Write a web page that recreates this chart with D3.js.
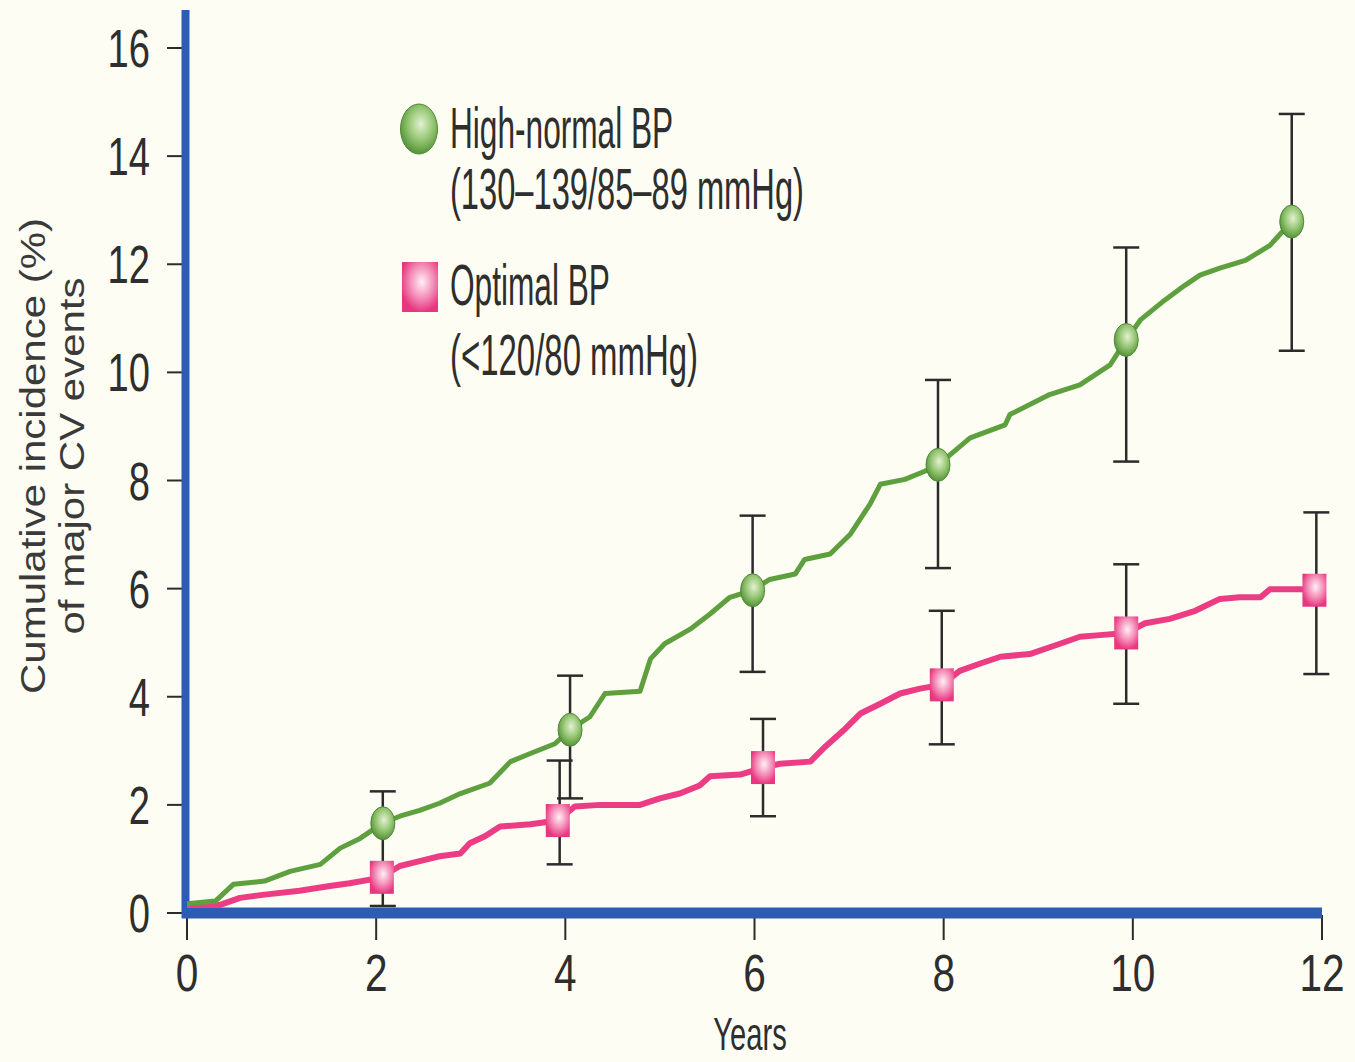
<!DOCTYPE html>
<html>
<head>
<meta charset="utf-8">
<script src="https://cdn.jsdelivr.net/npm/d3@7"></script>
<style>
  body { margin: 0; background: #fdfdf3; }
  svg { display: block; }
  text { font-family: "Liberation Sans", Arial, sans-serif; fill: #2e2e2e; }
</style>
</head>
<body>
<svg id="chart" width="1355" height="1062"></svg>
<script>
// DATA
const years = [0, 2, 4, 6, 8, 10, 12];
const yTicks = [0, 2, 4, 6, 8, 10, 12, 14, 16];

// high-normal BP curve (years, %)
const highT = [0, 0.3, 0.49, 0.82, 1.09, 1.41, 1.62, 1.83, 1.99, 2.07, 2.25, 2.46, 2.67, 2.89, 3.2, 3.42, 3.63, 3.89, 4.05, 4.26, 4.42, 4.79, 4.9, 5.05, 5.32, 5.53, 5.74, 5.98, 6.16, 6.43, 6.53, 6.8, 7.01, 7.22, 7.33, 7.59, 7.8, 7.94, 8.07, 8.28, 8.65, 8.7, 9.12, 9.44, 9.76, 9.93, 10.08, 10.34, 10.55, 10.71, 10.92, 11.19, 11.45, 11.68];
const highV = [0.17, 0.22, 0.53, 0.59, 0.77, 0.9, 1.2, 1.38, 1.57, 1.66, 1.79, 1.9, 2.03, 2.21, 2.4, 2.8, 2.95, 3.13, 3.39, 3.63, 4.06, 4.1, 4.7, 4.98, 5.25, 5.53, 5.84, 5.97, 6.17, 6.27, 6.54, 6.64, 7.0, 7.56, 7.93, 8.02, 8.17, 8.29, 8.48, 8.79, 9.03, 9.22, 9.59, 9.77, 10.14, 10.6, 10.97, 11.34, 11.61, 11.8, 11.93, 12.07, 12.35, 12.79];

// optimal BP curve
const optT = [0, 0.35, 0.56, 0.82, 1.19, 1.51, 1.72, 2.04, 2.25, 2.46, 2.67, 2.89, 2.99, 3.15, 3.31, 3.63, 3.92, 4.1, 4.37, 4.79, 5.0, 5.21, 5.42, 5.53, 5.85, 6.09, 6.27, 6.59, 6.75, 6.96, 7.12, 7.33, 7.54, 7.75, 7.98, 8.17, 8.38, 8.6, 8.91, 9.23, 9.44, 9.65, 9.93, 10.13, 10.39, 10.66, 10.92, 11.13, 11.35, 11.45, 11.77, 11.92];
const optV = [0.15, 0.15, 0.28, 0.34, 0.41, 0.5, 0.55, 0.65, 0.87, 0.96, 1.05, 1.1, 1.29, 1.42, 1.6, 1.64, 1.71, 1.97, 2.0, 2.0, 2.12, 2.21, 2.36, 2.53, 2.56, 2.69, 2.76, 2.8, 3.08, 3.41, 3.69, 3.87, 4.06, 4.15, 4.22, 4.48, 4.61, 4.74, 4.79, 4.98, 5.11, 5.14, 5.18, 5.36, 5.44, 5.59, 5.81, 5.84, 5.84, 5.99, 5.99, 5.97];

// markers with error bars
const highMarkT = [2.07, 4.05, 5.98, 7.94, 9.93, 11.68];
const highMarkV = [1.66, 3.39, 5.97, 8.29, 10.6, 12.79];
const highLo = [0.13, 2.12, 4.46, 6.38, 8.35, 10.4];
const highHi = [2.25, 4.39, 7.35, 9.86, 12.31, 14.78];

const optMarkT = [2.06, 3.92, 6.09, 7.98, 9.93, 11.92];
const optMarkV = [0.66, 1.71, 2.69, 4.22, 5.18, 5.97];
const optBarT = [2.06, 3.94, 6.09, 7.98, 9.93, 11.94];
const optLo = [null, 0.9, 1.79, 3.12, 3.87, 4.42];
const optHi = [null, 2.82, 3.59, 5.59, 6.45, 7.41];

const legendLines = ["High-normal BP", "(130\u2013139/85\u201389 mmHg)", "Optimal BP", "(<120/80 mmHg)"];

// STYLE
const blue = "#2c5cb3", green = "#5e9f3e", pink = "#ec3c84", ink = "#2b2b2b";

const svg = d3.select("#chart");
svg.append("rect").attr("width", 1355).attr("height", 1062).attr("fill", "#fdfdf3");

const x = d3.scaleLinear().domain([0, 12]).range([187, 1322]);
const y = d3.scaleLinear().domain([0, 16]).range([913, 48]);

const defs = svg.append("defs");
function grad(id, c0, c1, c2) {
  const g = defs.append("radialGradient").attr("id", id)
    .attr("cx", "55%").attr("cy", "40%").attr("r", "60%");
  g.append("stop").attr("offset", "0%").attr("stop-color", c0);
  g.append("stop").attr("offset", "55%").attr("stop-color", c1);
  g.append("stop").attr("offset", "100%").attr("stop-color", c2);
}
grad("gGreen", "#e3f1d2", "#95c673", "#55933a");
grad("gPink", "#fff0f6", "#f48db7", "#e8367f");

// squeezed text helper
function label(parent, str, px, py, size, sx, anchor) {
  parent.append("text")
    .attr("transform", `translate(${px},${py}) scale(${sx},1)`)
    .attr("text-anchor", anchor || "start")
    .style("font-size", size + "px")
    .text(str);
}

// AXES
const ax = svg.append("g");
ax.selectAll(".ytick").data(yTicks).join("line")
  .attr("x1", 167).attr("x2", 184)
  .attr("y1", d => y(d)).attr("y2", d => y(d))
  .attr("stroke", ink).attr("stroke-width", 2);
ax.selectAll(".xtick").data(years).join("line")
  .attr("x1", d => x(d)).attr("x2", d => x(d))
  .attr("y1", 915).attr("y2", 940)
  .attr("stroke", ink).attr("stroke-width", 2);

ax.append("line").attr("x1", x(0) - 1.5).attr("x2", x(0) - 1.5)
  .attr("y1", 10).attr("y2", 918)
  .attr("stroke", blue).attr("stroke-width", 8);
ax.append("line").attr("x1", 182).attr("x2", x(12))
  .attr("y1", y(0)).attr("y2", y(0))
  .attr("stroke", blue).attr("stroke-width", 11);

yTicks.forEach(d => label(ax, d, 150, y(d) + 19, 53, 0.72, "end"));
years.forEach(d => label(ax, d, x(d), 991, 52, 0.78, "middle"));
label(ax, "Years", 750, 1050, 47, 0.62, "middle");

[["Cumulative incidence (%)", 45], ["of major CV events", 84]].forEach(([s, bx]) => {
  ax.append("text")
    .attr("transform", `translate(${bx},456) rotate(-90) scale(1,0.82)`)
    .attr("text-anchor", "middle")
    .style("font-size", "42px")
    .style("fill", "#3a3a3a")
    .text(s);
});

// CURVES
const line = d3.line().x(d => x(d[0])).y(d => y(d[1]));
svg.append("path").datum(d3.zip(optT, optV)).attr("d", line)
  .attr("fill", "none").attr("stroke", pink).attr("stroke-width", 6)
  .attr("stroke-linejoin", "round");
svg.append("path").datum(d3.zip(highT, highV)).attr("d", line)
  .attr("fill", "none").attr("stroke", green).attr("stroke-width", 5)
  .attr("stroke-linejoin", "round");

// ERROR BARS
function bars(ts, lo, hi) {
  const g = svg.append("g").attr("stroke", ink).attr("stroke-width", 2.5);
  ts.forEach((t, i) => {
    if (lo[i] == null) return;
    g.append("line").attr("x1", x(t)).attr("x2", x(t)).attr("y1", y(lo[i])).attr("y2", y(hi[i]));
    [lo[i], hi[i]].forEach(v =>
      g.append("line").attr("x1", x(t) - 13).attr("x2", x(t) + 13).attr("y1", y(v)).attr("y2", y(v)));
  });
}
bars(highMarkT, highLo, highHi);
bars(optBarT, optLo, optHi);

// MARKERS
svg.selectAll(".optMark").data(d3.zip(optMarkT, optMarkV)).join("rect")
  .attr("x", d => x(d[0]) - 12).attr("y", d => y(d[1]) - 16.5)
  .attr("width", 24).attr("height", 33).attr("fill", "url(#gPink)");
svg.selectAll(".highMark").data(d3.zip(highMarkT, highMarkV)).join("ellipse")
  .attr("cx", d => x(d[0])).attr("cy", d => y(d[1]))
  .attr("rx", 12).attr("ry", 16.5).attr("fill", "url(#gGreen)")
  .attr("stroke", "#4f8a35").attr("stroke-width", 1);

// LEGEND
const lg = svg.append("g");
lg.append("ellipse").attr("cx", 419).attr("cy", 129).attr("rx", 18.5).attr("ry", 25)
  .attr("fill", "url(#gGreen)").attr("stroke", "#4f8a35").attr("stroke-width", 1);
lg.append("rect").attr("x", 402).attr("y", 262).attr("width", 36).attr("height", 50)
  .attr("fill", "url(#gPink)");
label(lg, legendLines[0], 450, 148, 57, 0.555);
label(lg, legendLines[1], 450, 209, 57, 0.573);
label(lg, legendLines[2], 450, 305, 57, 0.555);
label(lg, legendLines[3], 450, 375, 57, 0.578);
</script>
</body>
</html>
